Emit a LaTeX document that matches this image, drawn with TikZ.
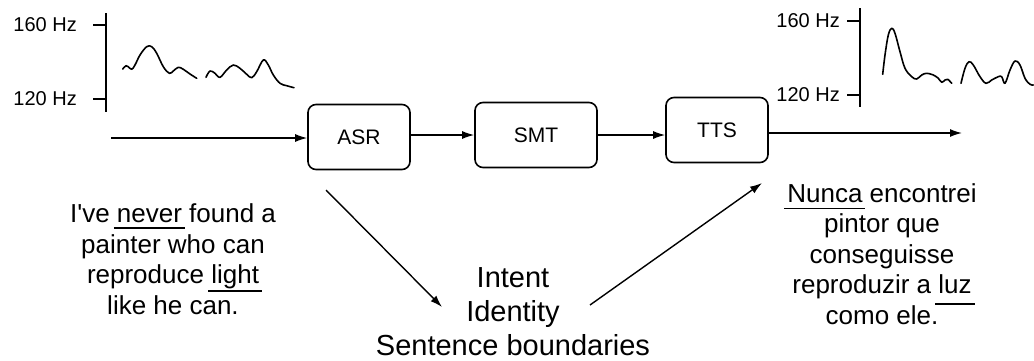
\documentclass[tikz,border=0pt]{standalone}
\usepackage{fontspec}
\setmainfont{Liberation Sans}
\usetikzlibrary{arrows.meta}
\newcommand{\ulword}[2]{\setbox0=\hbox{#2}\rlap{\kern-3pt\rule[-#1]{\dimexpr\wd0+6pt\relax}{1.4pt}}\box0\relax}

\begin{document}
\begin{tikzpicture}[x=1pt,y=-1pt,node distance=177pt,
  stage/.style={draw,rounded corners=8pt,line width=1.6pt,minimum width=102pt,minimum height=65pt,font=\fontsize{21}{25}\selectfont},
  flow/.style={-{Latex[length=12pt,width=8pt]},line width=1.4pt},
  hz/.style={anchor=east,inner sep=0pt,font=\fontsize{20}{24}\selectfont},
  axis/.style={line width=1.6pt},
  pitch/.style={line width=1.6pt,line join=round,line cap=round},
  sent/.style={align=center,font=\fontsize{26}{30.5}\selectfont}]
\useasboundingbox (0,0) rectangle (1034,360);

\node[stage] (asr) at (359,137) {ASR};
\node[stage,right of = asr,minimum width=122pt,yshift=2pt] (smt) {SMT};
\node[stage,right of = smt,node distance=181pt,yshift=5pt] (tts) {TTS};

\coordinate (in) at (111,138);
\coordinate (out) at (962,133);
\draw[flow] (in) -- (in -| asr.west);
\draw[flow] (smt.west -| asr.east) -- (smt.west);
\draw[flow] (smt.east) -- (smt.east -| tts.west);
\draw[flow] (tts.east |- out) -- (out);

\node[hz] (hz_hi_in) at (77,25) {160 Hz};
\node[hz] (hz_lo_in) at (77,99) {120 Hz};
\draw[axis] (106,13) -- (106,112);
\draw[axis] (93,25) -- (106,25);
\draw[axis] (93,99) -- (106,99);
\draw[pitch] plot[smooth,tension=0.6] coordinates {(122.7,69) (126,65.7) (128.3,66.7) (131.7,69.3) (135,65) (140,55) (146.7,46.7) (151.7,46.7) (156.7,53.3) (163.3,66.7) (169.3,73.3) (173.3,71) (178.3,67.3) (183.3,69.3) (190,74) (196.7,78.3)};
\draw[pitch] plot[smooth,tension=0.6] coordinates {(206,77.3) (210,71) (215,73.3) (220,77.3) (226.7,70) (233.3,65) (240,68.3) (246.7,74.3) (251.7,77.7) (256.7,71.7) (263.3,60) (268.3,65) (273.3,75) (280,83.3) (286.7,85.7) (294,87.7)};

\node[hz] (hz_hi_out) at (840,21) {160 Hz};
\node[hz] (hz_lo_out) at (840,95) {120 Hz};
\draw[axis] (860,8) -- (860,107);
\draw[axis] (847,21) -- (860,21);
\draw[axis] (847,95) -- (860,95);
\draw[pitch] plot[smooth,tension=0.6] coordinates {(882.7,74.3) (885,55) (888.3,35) (891.7,28.3) (895,33.3) (900,51.7) (905,68.3) (911.7,76.7) (916.7,79) (921.7,75) (926.7,73.3) (933.3,75) (938.3,78.3) (941.7,82.3) (945,80) (947.7,79.3) (951.7,83.3)};
\draw[pitch] plot[smooth,tension=0.6] coordinates {(961,83.3) (965,68.3) (969,61.7) (973.3,65) (980,76.7) (986,83.3) (991.7,80) (998.3,76.7) (1001.7,76.7) (1005,83.3) (1010,70) (1015,61) (1020,65) (1025,78.3) (1030,84.3) (1033.3,85)};

\node[sent] (src) at (173,259) {I\textquotesingle ve \ulword{6pt}{never} found a\\painter who can\\reproduce \ulword{8pt}{light}\\like he can.};
\node[sent] (tgt) at (882,254) {\ulword{7pt}{Nunca} encontrei\\pintor que\\conseguisse\\reproduzir a \ulword{11pt}{luz}\\como ele.};
\node[align=center,inner sep=0pt,font=\fontsize{29}{34}\selectfont] (info) at (513,312) {Intent\\Identity\\Sentence boundaries};

\coordinate (asr_feat) at (326,190);
\coordinate (info_in) at (442,307);
\coordinate (info_out) at (590,305);
\coordinate (tts_feat) at (762,183);
\draw[flow] (asr_feat) -- (info_in);
\draw[flow] (info_out) -- (tts_feat);

\end{tikzpicture}
\end{document}
